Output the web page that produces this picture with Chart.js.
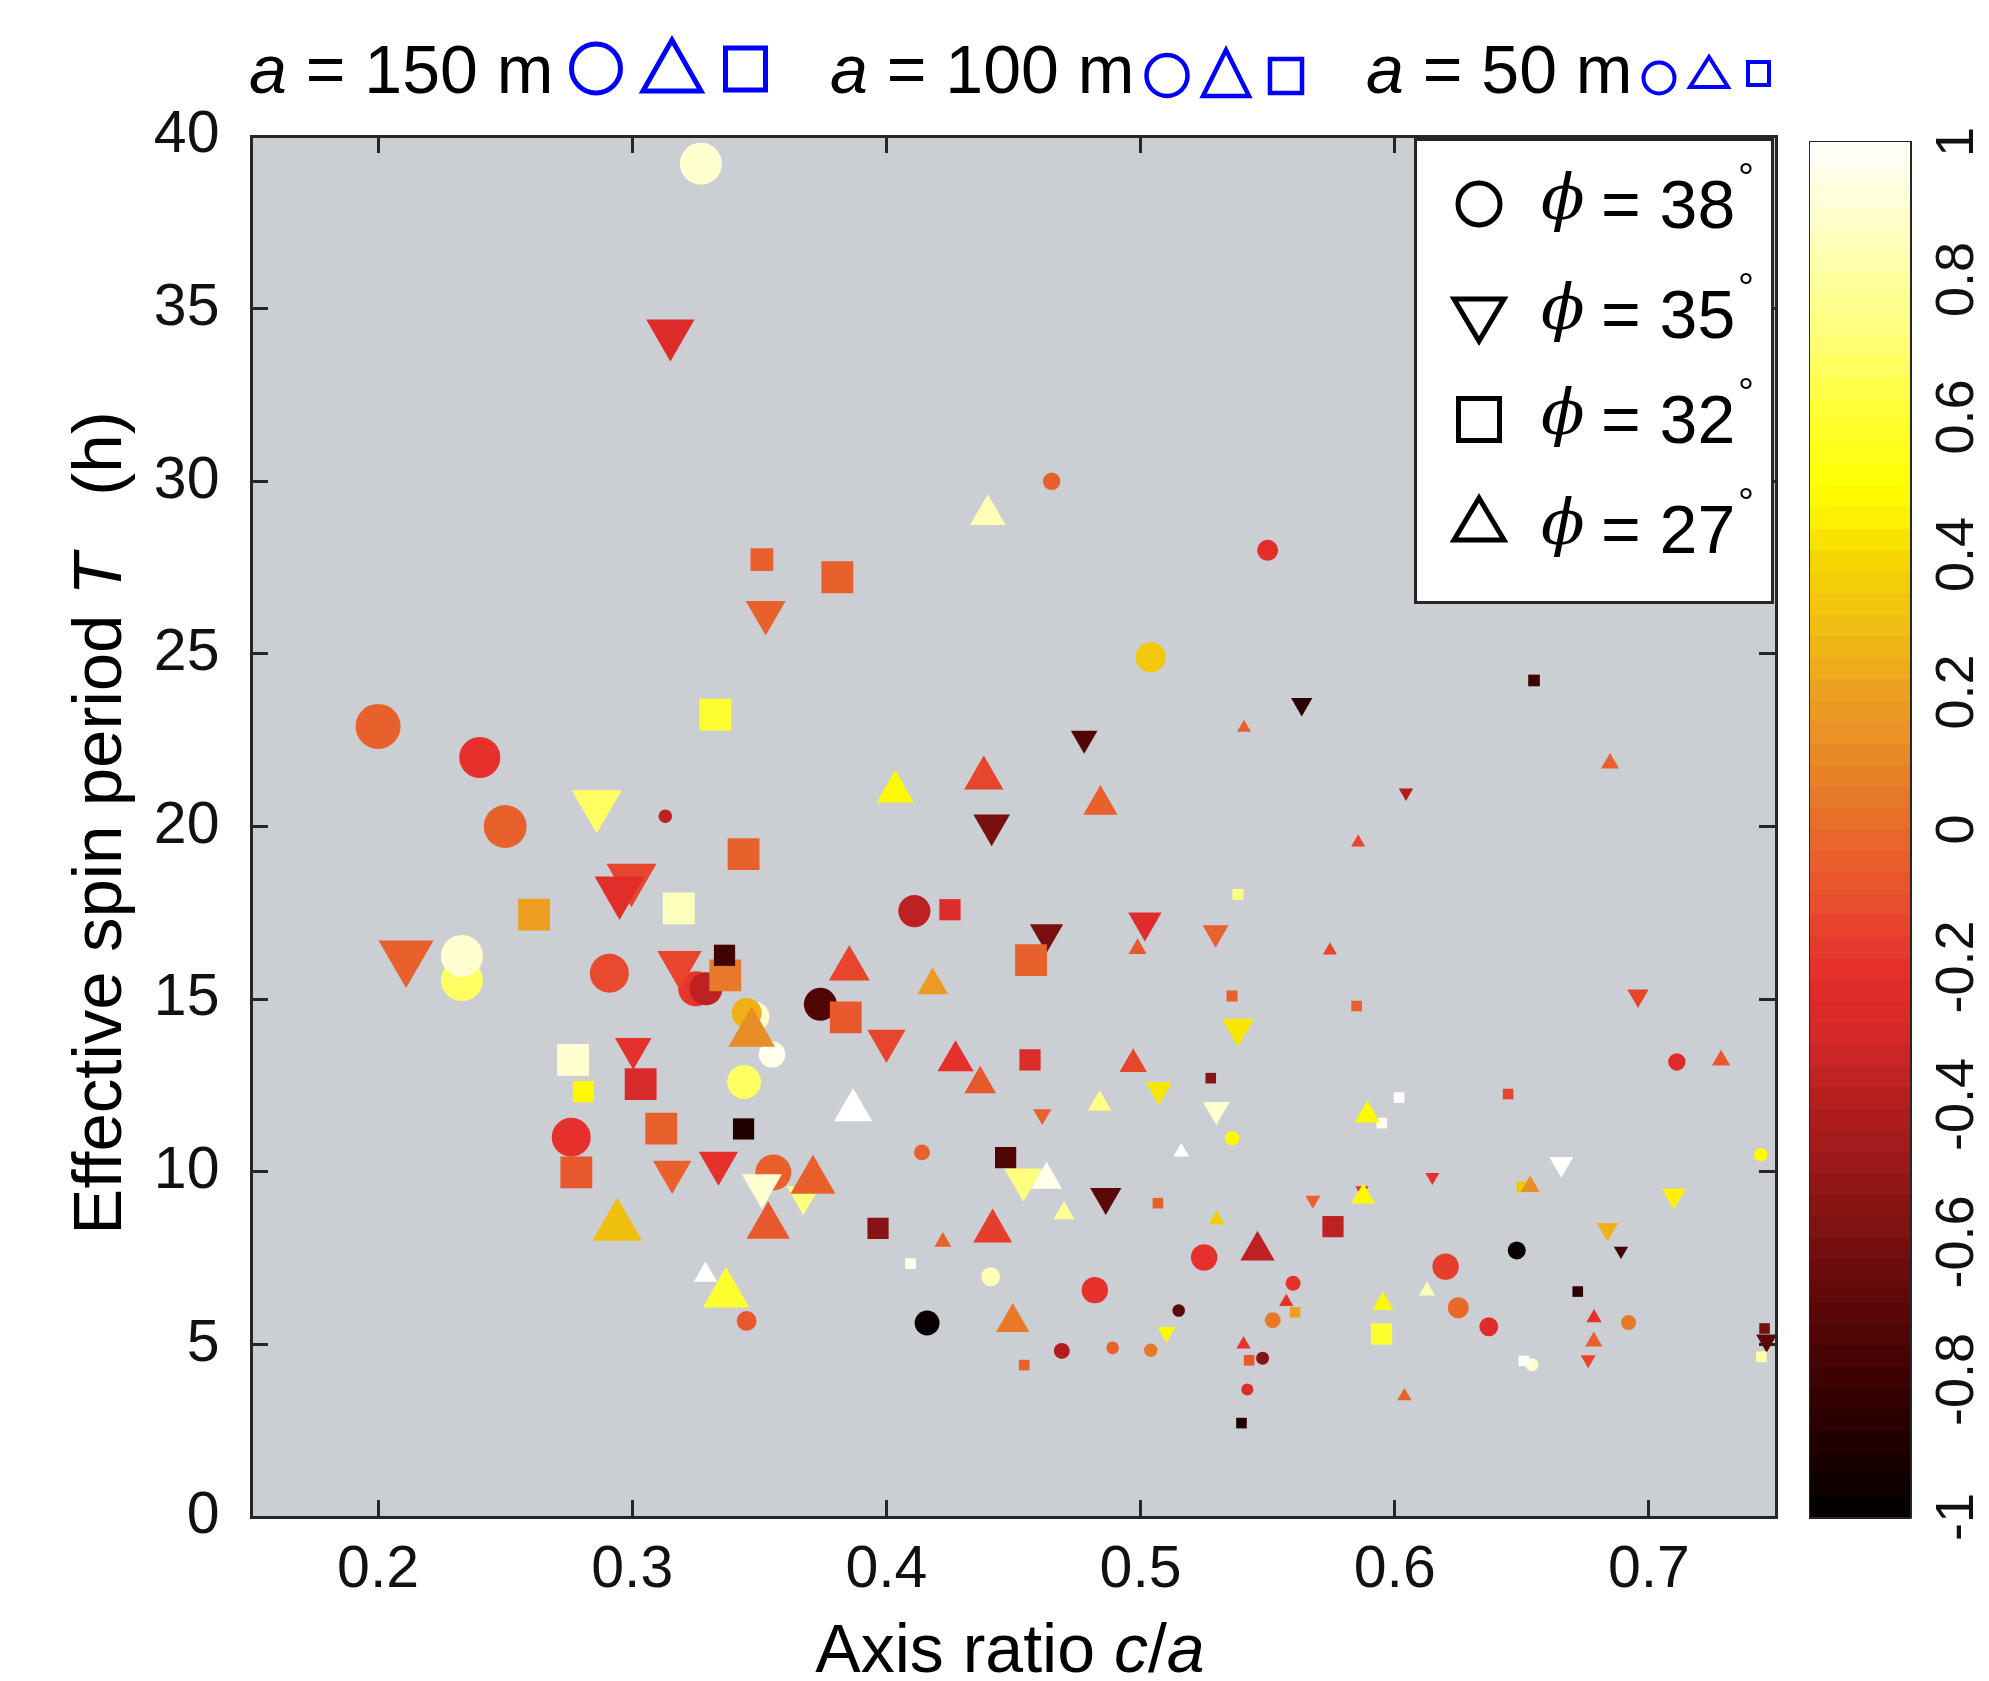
<!DOCTYPE html>
<html><head><meta charset="utf-8">
<script src="https://cdn.jsdelivr.net/npm/chart.js@4.4.1/dist/chart.umd.min.js"></script>
<style>
html,body{margin:0;padding:0;background:#fff;}
#wrap{position:relative;width:1989px;height:1681px;overflow:hidden;background:#fff;}
canvas{position:absolute;top:0;}
#main{left:0;width:1989px;height:1681px;}
#cb{left:1780px;width:209px;height:1681px;}
#ov{position:absolute;left:0;top:0;pointer-events:none;}
</style></head><body>
<div id="wrap">
<canvas id="main" width="1989" height="1681"></canvas>
<canvas id="cb" width="209" height="1681"></canvas>
<svg id="ov" width="1989" height="1681" xmlns="http://www.w3.org/2000/svg">
 <g font-family="'Liberation Sans', Arial, Helvetica, sans-serif" fill="#000">
  <!-- header -->
  <text x="249" y="93" font-size="68"><tspan font-style="italic">a</tspan> = 150 m</text>
  <circle cx="596" cy="68.5" r="24.5" fill="none" stroke="#0000ff" stroke-width="5"/>
  <polygon points="672,40 643,91 701,91" fill="none" stroke="#0000ff" stroke-width="5"/>
  <rect x="725.5" y="48" width="40" height="42" fill="none" stroke="#0000ff" stroke-width="5"/>
  <text x="830" y="93" font-size="68"><tspan font-style="italic">a</tspan> = 100 m</text>
  <circle cx="1167" cy="75.5" r="20.5" fill="none" stroke="#0000ff" stroke-width="4.5"/>
  <polygon points="1226,50 1203,96 1249,96" fill="none" stroke="#0000ff" stroke-width="4.5"/>
  <rect x="1270" y="59" width="32" height="34" fill="none" stroke="#0000ff" stroke-width="4.5"/>
  <text x="1366" y="93" font-size="68"><tspan font-style="italic">a</tspan> = 50 m</text>
  <circle cx="1659" cy="78" r="15.5" fill="none" stroke="#0000ff" stroke-width="4"/>
  <polygon points="1709,57 1690,87 1728,87" fill="none" stroke="#0000ff" stroke-width="4"/>
  <rect x="1748" y="62" width="21" height="23" fill="none" stroke="#0000ff" stroke-width="4"/>

  <!-- legend -->
  <rect x="1415.5" y="139.5" width="357" height="463" fill="#fff" stroke="#262626" stroke-width="3"/>
  <circle cx="1479" cy="204" r="21" fill="none" stroke="#000" stroke-width="5"/>
  <text x="1541" y="218.6" font-family="'DejaVu Serif', serif" font-style="italic" font-size="64">&#981;</text>
  <text x="1601" y="228" font-size="68">= 38</text>
  <text x="1738" y="191.3" font-size="40">&#176;</text>

  <polygon points="1454,299 1504,299 1479,341" fill="none" stroke="#000" stroke-width="5"/>
  <text x="1541" y="328.6" font-family="'DejaVu Serif', serif" font-style="italic" font-size="64">&#981;</text>
  <text x="1601" y="338" font-size="68">= 35</text>
  <text x="1738" y="301.3" font-size="40">&#176;</text>

  <rect x="1458.5" y="398.5" width="41" height="42" fill="none" stroke="#000" stroke-width="5"/>
  <text x="1541" y="433.6" font-family="'DejaVu Serif', serif" font-style="italic" font-size="64">&#981;</text>
  <text x="1601" y="443" font-size="68">= 32</text>
  <text x="1738" y="406.3" font-size="40">&#176;</text>

  <polygon points="1479,498 1454,540 1504,540" fill="none" stroke="#000" stroke-width="5"/>
  <text x="1541" y="543.6" font-family="'DejaVu Serif', serif" font-style="italic" font-size="64">&#981;</text>
  <text x="1601" y="553" font-size="68">= 27</text>
  <text x="1738" y="516.3" font-size="40">&#176;</text>

  <!-- axis titles -->
  <text x="1010" y="1672" font-size="68" text-anchor="middle">Axis ratio <tspan font-style="italic">c</tspan>/<tspan font-style="italic">a</tspan></text>
  <text transform="translate(121,823) rotate(-90)" font-size="69" text-anchor="middle">Effective spin period <tspan font-style="italic">T</tspan>&#160;&#160; (h)</text>
 </g>
</svg>
</div>
<script>
// ---------------- data ----------------
const xTicks = [0.2, 0.3, 0.4, 0.5, 0.6, 0.7];
const xTickLabels = ['0.2', '0.3', '0.4', '0.5', '0.6', '0.7'];
const yTicks = [0, 5, 10, 15, 20, 25, 30, 35, 40];
const yTickLabels = ['0', '5', '10', '15', '20', '25', '30', '35', '40'];
const cbTicks = [-1, -0.8, -0.6, -0.4, -0.2, 0, 0.2, 0.4, 0.6, 0.8, 1];
const cbTickLabels = ['-1', '-0.8', '-0.6', '-0.4', '-0.2', '0', '0.2', '0.4', '0.6', '0.8', '1'];
const cbRange = [-1, 1];

// phi = 38 deg (circles): c/a, T (h), a (m), colour value
const circX = [0.327,0.465,0.550,0.200,0.240,0.250,0.313,0.233,0.233,0.291,0.325,0.329,0.348,0.345,0.504,0.411,0.374,0.355,0.344,0.276,0.345,0.3555,0.414,0.441,0.482,0.525,0.416,0.515,0.469,0.489,0.504,0.548,0.542,0.552,0.536,0.711,0.744,0.648,0.620,0.560,0.625,0.637,0.692,0.654];
const circY = [39.2,30.0,28.0,22.9,22.0,20.0,20.3,15.55,16.25,15.75,15.3,15.3,14.5,14.6,24.9,17.55,14.85,13.4,12.6,11.0,5.68,9.98,10.56,6.96,6.57,7.52,5.62,5.98,4.81,4.9,4.83,4.6,3.69,5.7,10.97,13.18,10.49,7.72,7.25,6.77,6.06,5.51,5.63,4.41];
const circA = [140,58,70,150,137,143,45,140,140,130,117,110,100,100,100,107,110,88,113,130,66,120,53,63,88,88,83,42,53,42,45,43,40,53,48,58,45,60,88,50,70,63,50,43];
const circC = [0.9,-0.04,-0.22,-0.04,-0.2,-0.04,-0.37,0.68,0.9,-0.12,-0.18,-0.37,0.9,0.25,0.34,-0.37,-0.73,0.96,0.68,-0.2,-0.07,-0.04,-0.04,0.85,-0.2,-0.2,-0.98,-0.7,-0.41,-0.04,0.05,-0.55,-0.25,0.05,0.48,-0.25,0.48,-0.98,-0.16,-0.2,0.0,-0.25,0.05,0.9];

// phi = 35 deg (downward triangles)
const downX = [0.315,0.3525,0.286,0.2997,0.295,0.211,0.3186,0.3004,0.3157,0.3339,0.351,0.3673,0.4778,0.4414,0.463,0.5017,0.5295,0.5383,0.400,0.5634,0.6044,0.6957,0.5072,0.5298,0.4613,0.4539,0.4863,0.5102,0.6655,0.6148,0.5678,0.5871,0.7098,0.6837,0.689,0.6761,0.7463];
const downY = [34.28,26.2,20.63,18.5,18.13,16.24,16.02,13.57,10.0,10.25,9.59,9.3,22.55,20.04,16.89,17.23,16.92,14.16,13.79,23.54,20.98,15.1,12.37,11.8,11.66,9.77,9.27,5.35,10.23,9.85,9.18,9.47,9.31,8.34,7.71,4.56,5.11];
const downA = [145,120,150,150,150,165,133,110,115,118,120,100,80,110,100,100,78,97,115,64,43,64,80,80,55,115,94,54,72,42,45,40,72,64,43,45,63];
const downC = [-0.25,-0.04,0.68,-0.13,-0.22,-0.04,-0.13,-0.2,-0.04,-0.2,0.9,0.73,-0.73,-0.6,-0.6,-0.25,-0.04,0.43,-0.13,-0.84,-0.41,-0.13,0.43,0.9,-0.04,0.73,-0.7,0.48,1.0,-0.2,-0.04,-0.2,0.46,0.25,-0.79,-0.13,-0.7];

// phi = 27 deg (upward triangles)
const upX = [0.4399,0.347,0.5407,0.4035,0.4383,0.4842,0.4988,0.3854,0.4182,0.4272,0.4971,0.6847,0.5856,0.5745,0.7284,0.2941,0.3288,0.3369,0.3535,0.4369,0.3869,0.4839,0.516,0.463,0.4699,0.5299,0.546,0.3711,0.4222,0.4418,0.4497,0.5405,0.5892,0.5876,0.6533,0.6127,0.5573,0.5953,0.6784,0.6783,0.6038];
const upY = [29.03,14.01,22.86,21.01,21.4,20.63,16.46,15.88,15.4,13.21,13.12,21.83,19.54,16.41,13.23,8.42,7.01,6.46,8.42,12.54,11.78,11.97,10.57,9.77,8.8,8.61,7.72,9.74,7.97,8.28,5.64,5.0,11.64,9.28,9.57,6.55,6.23,6.18,5.77,5.08,3.5];
const upA = [107,140,42,112,118,103,54,123,93,108,82,54,42,42,55,150,70,140,130,95,115,70,47,93,63,48,103,135,51,117,100,43,76,71,57,48,43,63,46,52,43];
const upC = [0.85,0.12,-0.04,0.48,-0.13,-0.04,-0.07,-0.13,0.18,-0.2,-0.13,-0.04,-0.13,-0.13,-0.07,0.3,1.0,0.6,-0.07,-0.07,1.0,0.74,1.0,0.96,0.78,0.36,-0.37,-0.04,-0.04,-0.16,0.05,-0.2,0.48,0.48,0.12,0.85,-0.2,0.48,-0.2,-0.04,-0.04];

// phi = 32 deg (squares)
const sqX = [0.351,0.3807,0.3327,0.3438,0.3183,0.2614,0.3366,0.3363,0.2767,0.5383,0.425,0.4569,0.536,0.384,0.4565,0.6548,0.585,0.2808,0.3033,0.3114,0.3438,0.278,0.5276,0.4469,0.5068,0.3967,0.4095,0.4542,0.5427,0.5397,0.6017,0.6446,0.5949,0.5757,0.65,0.5608,0.5948,0.672,0.6508,0.7455,0.7443];
const sqY = [27.73,27.22,23.24,19.2,17.63,17.45,15.69,16.27,13.24,18.03,17.59,16.13,15.09,14.47,13.24,24.23,14.8,12.32,12.54,11.25,11.24,9.98,12.71,10.41,9.09,8.36,7.34,4.4,4.54,2.72,12.15,12.25,11.41,8.41,9.56,5.93,5.3,6.53,4.52,5.46,4.64];
const sqA = [107,150,150,150,150,150,150,100,150,52,100,150,52,150,100,55,50,100,150,150,100,150,50,100,50,100,50,50,50,50,50,50,50,100,50,50,100,50,50,50,50];
const sqC = [-0.04,-0.04,0.6,-0.04,0.86,0.2,0.05,-0.79,0.9,0.73,-0.25,-0.04,-0.04,-0.07,-0.25,-0.79,-0.04,0.48,-0.28,-0.04,-0.89,-0.07,-0.55,-0.73,-0.04,-0.55,0.96,-0.04,-0.07,-0.89,1.0,-0.13,0.96,-0.37,0.34,0.2,0.6,-0.84,1.0,-0.6,0.82];

// ---------------- styling ----------------
const FONT = "'Liberation Sans', Arial, Helvetica, sans-serif";
const INK = '#262626';
const PLOT_BG = 'rgb(203,206,211)';
Chart.defaults.font.family = FONT;

const cmapStops = [
  [-1.0,[0,0,0]],[-0.9,[30,0,0]],[-0.8,[60,2,2]],[-0.7,[90,8,8]],[-0.6,[120,16,16]],
  [-0.5,[150,24,24]],[-0.4,[180,30,30]],[-0.3,[213,40,40]],[-0.2,[229,48,44]],[-0.1,[232,80,46]],
  [0.0,[232,106,42]],[0.1,[232,136,40]],[0.2,[237,160,32]],[0.3,[240,192,16]],[0.4,[245,215,0]],
  [0.45,[252,240,0]],[0.5,[255,255,0]],[0.6,[255,255,48]],[0.7,[255,255,112]],[0.8,[255,255,160]],
  [0.9,[255,255,208]],[1.0,[255,255,255]]
];
function cmap(v) {
  v = Math.max(-1, Math.min(1, v));
  for (let i = 1; i < cmapStops.length; i++) {
    const [v1, c1] = cmapStops[i];
    const [v0, c0] = cmapStops[i - 1];
    if (v <= v1) {
      const t = (v - v0) / (v1 - v0);
      const c = c0.map((k, j) => Math.round(k + (c1[j] - k) * t));
      return `rgb(${c[0]},${c[1]},${c[2]})`;
    }
  }
  return 'rgb(255,255,255)';
}

const ROUND_K = 0.15;   // px radius per metre for circles / squares
const TRI_K = 0.1925;   // px radius per metre for triangles

function makeSet(label, xs, ys, as, cs, style, rot, k, order) {
  return {
    label,
    data: xs.map((x, i) => ({ x, y: ys[i] })),
    pointStyle: style,
    pointRotation: rot,
    pointRadius: as.map(a => a * k),
    pointHoverRadius: as.map(a => a * k),
    pointBackgroundColor: cs.map(cmap),
    pointBorderWidth: 0,
    pointHoverBorderWidth: 0,
    showLine: false,
    clip: false,
    order
  };
}

function noPad(s) { s.paddingTop = 0; s.paddingBottom = 0; s.paddingLeft = 0; s.paddingRight = 0; }

function axis(pos, min, max, tickVals, tickLabels, showLabels, size, pad) {
  const vertical = (pos === 'left' || pos === 'right');
  return {
    type: 'linear', position: pos, min, max,
    afterBuildTicks: s => { s.ticks = tickVals.map(v => ({ value: v })); },
    ticks: {
      display: showLabels, autoSkip: false, maxRotation: 0, minRotation: 0,
      padding: pad, color: '#111', font: { family: FONT, size: 59 },
      callback: (v, i) => tickLabels[i]
    },
    grid: { display: true, drawOnChartArea: false, drawTicks: true, tickLength: -17, tickWidth: 3, tickColor: INK, color: INK },
    border: { display: true, width: 3, color: INK },
    afterFit: s => { if (vertical) s.width = size; else s.height = size; noPad(s); }
  };
}

const plotBg = {
  id: 'plotBg',
  beforeDraw(chart) {
    const { ctx, chartArea: a } = chart;
    ctx.save();
    ctx.fillStyle = PLOT_BG;
    ctx.fillRect(a.left, a.top, a.right - a.left, a.bottom - a.top);
    ctx.restore();
  }
};

new Chart(document.getElementById('main'), {
  type: 'scatter',
  data: {
    datasets: [
      makeSet('phi = 27', upX, upY, upA, upC, 'triangle', 0, TRI_K, 0),
      makeSet('phi = 32', sqX, sqY, sqA, sqC, 'rect', 0, ROUND_K, 1),
      makeSet('phi = 35', downX, downY, downA, downC, 'triangle', 180, TRI_K, 2),
      makeSet('phi = 38', circX, circY, circA, circC, 'circle', 0, ROUND_K, 3)
    ]
  },
  options: {
    responsive: false, animation: false, events: [],
    layout: { padding: { left: 0, top: 136, right: 213, bottom: 0 } },
    plugins: { legend: { display: false }, tooltip: { enabled: false }, title: { display: false } },
    scales: {
      x: axis('bottom', 0.15, 0.75, xTicks, xTickLabels, true, 164, 35),
      xTop: axis('top', 0.15, 0.75, xTicks, xTickLabels, false, 0, 0),
      y: axis('left', 0, 40, yTicks, yTickLabels, true, 251, 48.5),
      yRight: axis('right', 0, 40, yTicks, yTickLabels, false, 0, 0)
    }
  },
  plugins: [plotBg]
});

// ---------------- colour bar ----------------
function cbFill(context) {
  const chart = context.chart;
  const { ctx, chartArea } = chart;
  if (!chartArea) return 'rgba(0,0,0,0)';
  const ys = chart.scales.y;
  const y0 = ys.getPixelForValue(cbRange[0]), y1 = ys.getPixelForValue(cbRange[1]);
  const g = ctx.createLinearGradient(0, y0, 0, y1);
  const n = 64;
  for (let i = 0; i < n; i++) {
    const col = cmap(cbRange[0] + (i + 0.5) * (cbRange[1] - cbRange[0]) / n);
    g.addColorStop(i / n, col);
    g.addColorStop((i + 1) / n, col);
  }
  return g;
}
function frameAxis(pos, type) {
  const vertical = (pos === 'left' || pos === 'right');
  const o = {
    type, position: pos,
    ticks: { display: false },
    grid: { display: false, drawTicks: false },
    border: { display: true, width: 3, color: INK },
    afterFit: s => { if (vertical) s.width = 0; else s.height = 0; noPad(s); }
  };
  if (type === 'linear') { o.min = cbRange[0]; o.max = cbRange[1]; }
  return o;
}
new Chart(document.getElementById('cb'), {
  type: 'bar',
  data: {
    labels: ['colour'],
    datasets: [{ data: [cbRange], backgroundColor: cbFill, borderWidth: 0, barPercentage: 1, categoryPercentage: 1 }]
  },
  options: {
    responsive: false, animation: false, events: [],
    layout: { padding: { left: 30, top: 142, right: 0, bottom: 164 } },
    plugins: { legend: { display: false }, tooltip: { enabled: false } },
    scales: {
      x: frameAxis('bottom', 'category'),
      xTop: frameAxis('top', 'category'),
      yl: frameAxis('left', 'linear'),
      y: {
        type: 'linear', position: 'right', min: cbRange[0], max: cbRange[1],
        afterBuildTicks: s => { s.ticks = cbTicks.map(v => ({ value: v })); },
        ticks: {
          autoSkip: false, minRotation: 90, maxRotation: 90, crossAlign: 'center', padding: 15,
          color: '#111', font: { family: FONT, size: 54 },
          callback: (v, i) => cbTickLabels[i]
        },
        grid: { display: true, drawOnChartArea: false, drawTicks: true, tickLength: -13, tickWidth: 2, tickColor: INK, color: INK },
        border: { display: true, width: 3, color: INK },
        afterFit: s => { s.width = 79; noPad(s); }
      }
    }
  }
});
</script>
</body></html>
